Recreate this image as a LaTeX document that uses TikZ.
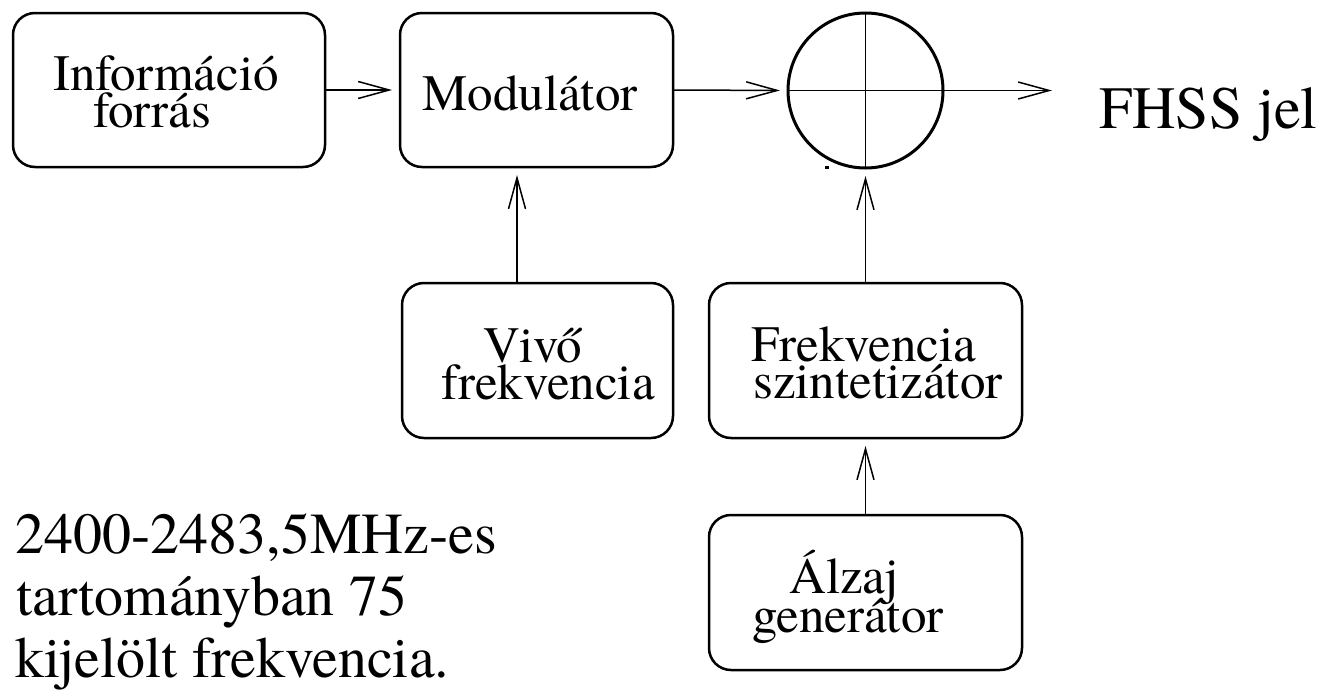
\documentclass[tikz,border=0pt]{standalone}
\usepackage{fontspec}
\setmainfont{TeX Gyre Termes}
\usetikzlibrary{arrows.meta}
\tikzset{
  blk/.style={draw, line width=2.5pt, rounded corners=22pt, inner sep=0pt, outer sep=0pt},
  lbl/.style={inner sep=0pt, anchor=base west, font=\fontsize{51}{51}\selectfont},
  bigtxt/.style={inner sep=0pt, anchor=base west, font=\fontsize{58}{62}\selectfont},
  arr/.style={line width=1.5pt, -{Straight Barb[length=31pt,width=17pt,line width=1.5pt]}, shorten >=8pt},
  arrfree/.style={line width=1.5pt, -{Straight Barb[length=31pt,width=17pt,line width=1.5pt]}},
  thin/.style={line width=1.5pt}
}
\begin{document}
\begin{tikzpicture}[x=1pt,y=-1pt]
\useasboundingbox (0,0) rectangle (1319,696);
% boxes
\node[blk, minimum width=312pt, minimum height=154pt] (info) at (169,90) {};
\node[blk, minimum width=273pt, minimum height=154pt] (mod) at (536.5,90) {};
\node[blk, minimum width=271pt, minimum height=155pt] (vivo) at (537.5,360.5) {};
\node[blk, minimum width=313pt, minimum height=155pt] (szint) at (865.5,360.5) {};
\node[blk, minimum width=313pt, minimum height=155pt] (alzaj) at (865.5,592.5) {};
\node[draw, circle, line width=3pt, minimum size=155pt, inner sep=0pt, outer sep=0pt] (circ) at (865.5,90.5) {};
% cross inside the circle
\draw[thin] (circ.north) -- (circ.south);
\draw[thin] (circ.west) -- (circ.east);
\fill (825,166) rectangle (829,168.5);
% labels inside boxes
\node[lbl] (t1a) at (53,90) {Információ};
\node[lbl] (t1b) at (93,127) {forrás};
\node[lbl] (t2) at (422,110) {Modulátor};
\node[lbl] (t3a) at (483,362) {Vivő};
\node[lbl] (t3b) at (441,399) {frekvencia};
\node[lbl] (t4a) at (751,361) {Frekvencia};
\node[lbl] (t4b) at (753,398) {szintetizátor};
\node[lbl] (t5a) at (789,593) {Álzaj};
\node[lbl] (t5b) at (752,632) {generátor};
% output label
\node[inner sep=0pt, anchor=base west, font=\fontsize{60}{60}\selectfont] (fhss) at (1099,128) {FHSS jel};
% note
\node[bigtxt] (n1) at (15,553) {2400-2483,5MHz-es};
\node[bigtxt] (n2) at (16,615) {tartományban 75};
\node[bigtxt] (n3) at (15,677) {kijelölt frekvencia.};
% connectors
\coordinate (vx) at (517,0);
\coordinate (out) at (1052,90.5);
\draw[arr] (info.east) -- (mod.west);
\draw[arr] (mod.east) -- (circ.west);
\draw[arrfree] (circ.east) -- (out);
\draw[arr] (vivo.north -| vx) -- (mod.south -| vx);
\draw[arr] (szint.north) -- (circ.south);
\draw[arr] (alzaj.north) -- (szint.south);
\end{tikzpicture}
\end{document}
